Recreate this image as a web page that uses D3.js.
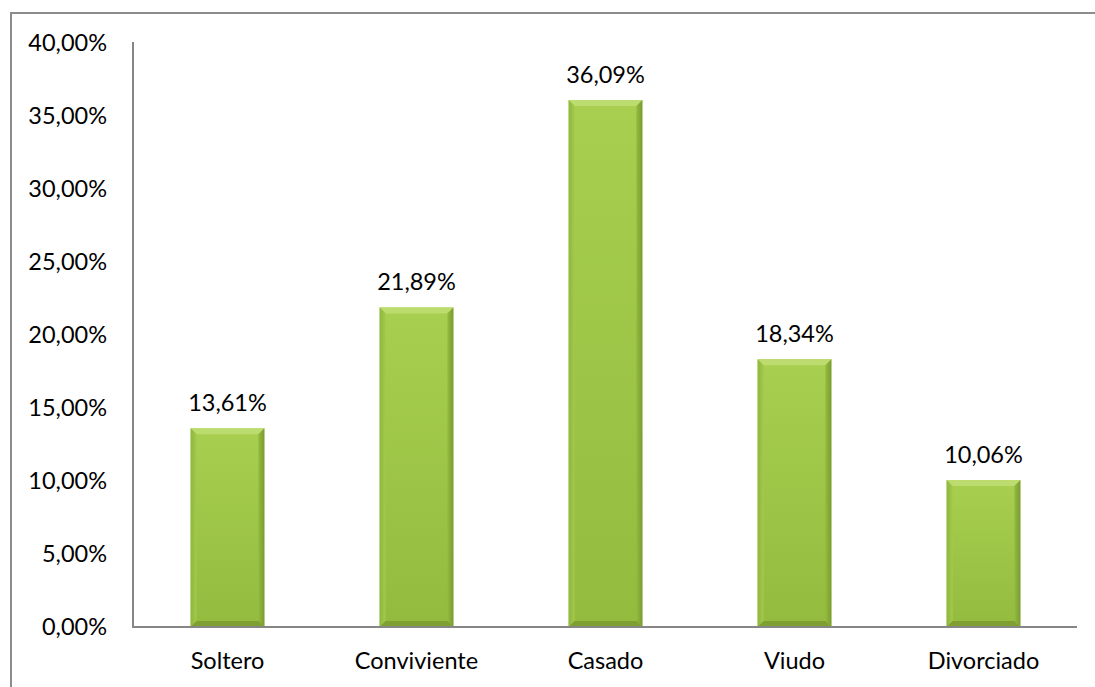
<!DOCTYPE html>
<html><head><meta charset="utf-8">
<script src="https://cdn.jsdelivr.net/npm/d3@7"></script>
<style>body{margin:0;background:#fff;}svg{display:block;font-family:Lato,"Open Sans",sans-serif;}</style>
</head><body>
<script>
const categories = ["Soltero","Conviviente","Casado","Viudo","Divorciado"];
const values = [13.61, 21.89, 36.09, 18.34, 10.06];
const yTicks = [0,5,10,15,20,25,30,35,40];

const W = 1095, H = 687;
const m = {left:133, right:17, top:43, bottom:60};
const svg = d3.select("body").append("svg").attr("width",W).attr("height",H);

const defs = svg.append("defs");
const g1 = defs.append("linearGradient").attr("id","body").attr("x1",0).attr("y1",0).attr("x2",0).attr("y2",1);
g1.append("stop").attr("offset","0%").attr("stop-color","#a8cf4f");
g1.append("stop").attr("offset","100%").attr("stop-color","#93bb3e");
const g2 = defs.append("linearGradient").attr("id","lft").attr("x1",0).attr("y1",0).attr("x2",1).attr("y2",0);
g2.append("stop").attr("offset","0%").attr("stop-color","#8fb63e");
g2.append("stop").attr("offset","100%").attr("stop-color","#a3ca4b");
const g3 = defs.append("linearGradient").attr("id","rgt").attr("x1",0).attr("y1",0).attr("x2",1).attr("y2",0);
g3.append("stop").attr("offset","0%").attr("stop-color","#94bb40");
g3.append("stop").attr("offset","100%").attr("stop-color","#7a9c30");

// outer frame
svg.append("rect").attr("x",11).attr("y",13).attr("width",W).attr("height",H)
  .attr("fill","none").attr("stroke","#8c8c8c").attr("stroke-width",2);

const x = d3.scaleBand().domain(categories).range([m.left, W-m.right]).paddingInner(0.61).paddingOuter(0.305);
const y = d3.scaleLinear().domain([0,40]).range([H-m.bottom, m.top]);

const fmt = v => d3.format(".2f")(v).replace(".",",") + "%";
const FS = 23.5;

// y labels
svg.append("g").selectAll("text").data(yTicks).join("text")
  .attr("x",107).attr("y",d=>y(d)).attr("dy","0.35em").attr("text-anchor","end")
  .attr("font-size",FS).attr("fill","#000").text(d=>fmt(d));

// bars with bevel
const bev = 6;
const bars = svg.append("g").selectAll("g").data(values).join("g");
bars.each(function(v,i){
  const gg = d3.select(this);
  const x0 = x(categories[i]), w = x.bandwidth(), y0 = y(v), y1 = y(0);
  gg.append("rect").attr("x",x0).attr("y",y0).attr("width",w).attr("height",y1-y0).attr("fill","url(#body)");
  gg.append("polygon").attr("points",[[x0,y0],[x0+w,y0],[x0+w-bev,y0+bev],[x0+bev,y0+bev]].join(" ")).attr("fill","#bcdc70");
  gg.append("polygon").attr("points",[[x0,y0],[x0+bev,y0+bev],[x0+bev,y1-bev],[x0,y1]].join(" ")).attr("fill","url(#lft)");
  gg.append("polygon").attr("points",[[x0+w,y0],[x0+w-bev,y0+bev],[x0+w-bev,y1-bev],[x0+w,y1]].join(" ")).attr("fill","url(#rgt)");
  gg.append("polygon").attr("points",[[x0,y1],[x0+bev,y1-bev],[x0+w-bev,y1-bev],[x0+w,y1]].join(" ")).attr("fill","#7f9f32");
});

// value labels
svg.append("g").selectAll("text").data(values).join("text")
  .attr("x",(d,i)=>x(categories[i])+x.bandwidth()/2).attr("y",d=>y(d)-17)
  .attr("text-anchor","middle").attr("font-size",FS).attr("fill","#000").text(d=>fmt(d));

// axes lines
svg.append("line").attr("x1",m.left).attr("x2",m.left).attr("y1",y(40)-1).attr("y2",y(0)+1)
  .attr("stroke","#868686").attr("stroke-width",2);
svg.append("line").attr("x1",m.left).attr("x2",1077).attr("y1",y(0)).attr("y2",y(0))
  .attr("stroke","#868686").attr("stroke-width",2);

// category labels
svg.append("g").selectAll("text").data(categories).join("text")
  .attr("x",d=>x(d)+x.bandwidth()/2).attr("y",y(0)+34).attr("dy","0.35em")
  .attr("text-anchor","middle").attr("font-size",FS).attr("fill","#000").text(d=>d);
</script>
</body></html>
